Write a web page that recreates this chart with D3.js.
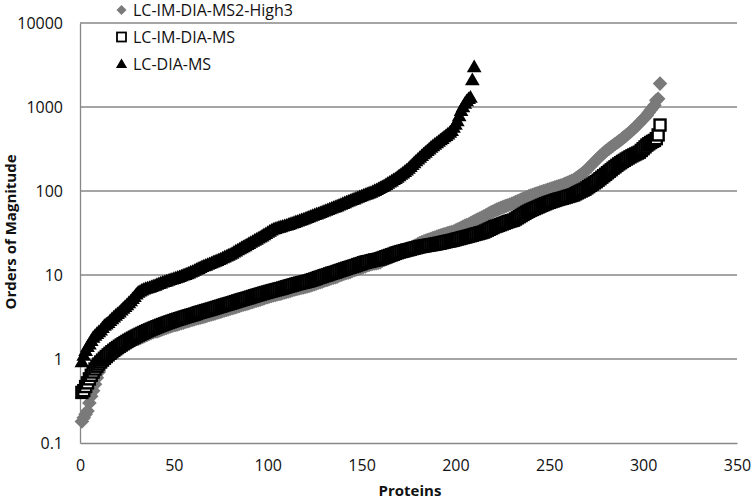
<!DOCTYPE html>
<html><head><meta charset="utf-8">
<script src="https://cdn.jsdelivr.net/npm/d3@7"></script>
<style>body{margin:0;background:#fff}svg{display:block}</style>
</head><body>
<svg id="c" width="751" height="500"></svg>
<script>
const seriesNames = ["LC-IM-DIA-MS2-High3", "LC-IM-DIA-MS", "LC-DIA-MS"];
const xTicks = [0, 50, 100, 150, 200, 250, 300, 350];
const yTicks = [0.1, 1, 10, 100, 1000, 10000];
const yTickLabels = ["0.1", "1", "10", "100", "1000", "10000"];
const xTitle = "Proteins";
const yTitle = "Orders of Magnitude";

// LC-IM-DIA-MS2-High3 (gray diamonds), ranked proteins 1..309
const highValues = [
0.18,0.2,0.22,0.24,0.3,0.36,0.42,0.5,0.6,0.7,
0.86,0.9,0.95,1.0,1.04,1.09,1.13,1.18,1.23,1.27,
1.31,1.35,1.4,1.44,1.49,1.54,1.58,1.63,1.67,1.72,
1.73,1.77,1.82,1.86,1.91,1.95,2.0,2.04,2.09,2.13,
2.13,2.17,2.22,2.26,2.31,2.35,2.39,2.44,2.48,2.53,
2.54,2.58,2.63,2.67,2.71,2.76,2.8,2.84,2.89,2.93,2.98,3.03,
3.05,3.1,3.15,3.19,3.24,3.29,3.34,3.39,3.44, 3.49,3.55,3.61,3.66,3.72,3.78,3.84,3.9,3.96,
4.02,4.09,4.15,4.22,4.29,4.36,4.43,4.49,4.56, 4.63,4.7,4.78,4.86,4.94,5.01,5.09,5.17,5.25,
5.39,5.46,5.54,5.62,5.7,5.78,5.86,5.93,6.0,
6.1,6.19,6.29,6.39,6.48,6.58,6.67,6.79,
6.87,6.96,7.05,7.13,7.22,7.31,7.4,
7.53,7.66,7.79,7.92,8.09,8.22,8.35,8.53,
8.66,8.79,8.96,9.14,9.27,9.4,9.57,
9.86,10,10.2,10.4,10.6,10.7,10.9,
11.2,11.4,11.6,11.8,12,12.2,12.5,12.6,
13.1,13.2,13.4,13.6,13.7,13.8,14,14.2,
14.8,15.1,15.4,15.7,16.1,16.4,16.8,17.3,17.7,18.1,
18.6,19,19.5,20,20.4,20.9,21.5,22.1,22.6,23.3,24,
24.5,25,25.5,26,26.5,27,27.5,28,28.5,
29,29.5,30,30.5,31,31.5,32,32.5,33, 33.8,34.7,35.6,36.5,37.5,38.4,39.2,40,
41.2,42.4,43.6,44.8,45.9,47, 48.3,49.7,51.1,52.6,54.1,55.6,57.1,58.6,60,
61.2,62.5,63.8,65.1,66.5,67.8,69.2,70.6,72, 73.7,75.4,77.2,79,80.8,82.6,84.4,86.2,88,
89.7,91.3,93,94.7,96.4,98.1,99.8,101.4,103, 104.8,106.7,108.6,110.5,112.4,114.3,116.2,118,
120.7,123.5,126.3,129.2,132.1,135, 140.2,145.6,151.2,157.1,163.2,170, 179,189,199,210,221,233,
245,258,271,284,297,310, 322,335,348,362,376,390,405, 423,441,460,480,500, 525,552,580,609,640,
680,720,750,800,860,920,980,1050,1200,1250,1900];

// LC-IM-DIA-MS (open squares), ranked proteins 1..309
const imValues = [
0.40,0.42,0.47,0.52,0.58,0.64,0.7,0.76,0.82,0.87,
0.92,0.97,1.02,1.07,1.12,1.17,1.22,1.27,1.32,1.37,
1.42,1.47,1.52,1.57,1.62,1.67,1.72,1.77,1.82,1.87,
1.92,1.97,2.02,2.07,2.12,2.17,2.22,2.27,2.32,2.37,
2.42,2.47,2.52,2.57,2.62,2.67,2.72,2.77,2.82,2.87,
2.92,2.97,3.02,3.07,3.12,3.17,3.22,3.27,3.32,3.37,3.42,3.48,
3.55,3.6,3.66,3.71,3.77,3.82,3.88,3.94,4.0,
4.06,4.13,4.2,4.26,4.33,4.4,4.47,4.53,4.6, 4.67,4.75,4.83,4.91,4.99,5.07,5.15,5.22,5.3,
5.38,5.47,5.56,5.65,5.74,5.83,5.92,6.01,6.1,
6.19,6.28,6.37,6.46,6.55,6.64,6.73,6.82,6.9,
7.01,7.12,7.23,7.34,7.45,7.56,7.67,7.8,
7.9,8.0,8.1,8.2,8.3,8.4,8.5,
8.65,8.8,8.95,9.1,9.3,9.45,9.6,9.8,
9.95,10.1,10.3,10.5,10.65,10.8,11,
11.2,11.4,11.6,11.8,12,12.2,12.4,
12.6,12.8,13.0,13.3,13.5,13.7,14,14.2,
14.4,14.5,14.7,14.9,15.1,15.2,15.4,15.6,
15.9,16.2,16.5,16.8,17.1,17.4,17.7,18.1,18.4,18.7,
19,19.2,19.5,19.8,20,20.3,20.6,20.9,21.1,21.4,21.7,
21.9,22.1,22.3,22.5,22.7,22.9,23.1,23.3,23.5, 23.8,24,24.3,24.6,24.9,25.2,25.4,25.7,26,
26.4,26.8,27.1,27.5,27.9,28.2,28.6,29, 29.4,29.8,30.3,30.7,31.1,31.6,32,32.5,
33.3,34.1,35,35.8,36.7,37.7,38.3,39, 39.8,40.6,41.4,42.2,43,43.8,44.4,45,
46.4,47.9,49.4,51,52.6,54.2,55.9,57.4,59, 60.3,61.7,63.1,64.5,66,67.5,69,70.5,72,
73.3,74.6,75.9,77.2,78.6,79.9,81,82, 83.3,84.6,86,87.3,88.7,90, 92.5,95,97.5,100,102.5,105,
108.8,112.7,116.7,120.8,125,129, 134.5,140,146,152,158,165, 172,179,187,194,202,210,
217,225,232,240,247,255, 262,269,276,283,290, 304,319,335,352, 365,378,390,400,420,465,610];

// LC-DIA-MS (filled triangles), ranked proteins 1..210
const diaValues = [
0.92,1.1,1.25,1.4,1.5,1.65,1.8,1.9,2.0,2.1, 2.2,2.35,2.5,2.6, 2.7,2.85,3.0,3.15, 3.3,3.45,3.6,
3.8,4.0,4.2, 4.4,4.65,4.9, 5.2,5.5,5.9, 6.2,6.4,6.6,6.75,6.9, 7.0,7.1,7.25,7.4,7.5,
7.7,7.85,8.0,8.2, 8.3,8.45,8.6,8.75,8.9,9.05,9.2,9.35,9.5, 9.7,9.9,10.1,10.3,10.5,10.8,11,
11.3,11.6,11.9,12.2,12.5,12.8,13, 13.3,13.6,13.9,14.2,14.5,14.8,15.2,15.5, 15.9,16.3,16.7,17.1,17.5,
18,18.6,19.2,19.8,20.4,21, 21.6,22.2,22.9,23.6,24.3,25, 25.8,26.5,27.3,28.1,29, 30,31,32,33,34,35,
35.6,36.2,36.8,37.4,38,38.5,39, 39.7,40.5,41.2,42,42.8,43.6,44.4,45.2,46,
47,48,49,50,51,52,53,54,55, 56.2,57.4,58.6,59.8,61,62.2,63.4,64.7,66,
67.5,69,70.6,72.2,73.8,75.4,77,78.5,80, 81.7,83.4,85.2,87,88.8,90.6,92.4,94.2,96,
98.5,101,103.5,106,109,112,115, 119,123,127,131,136,140,145, 151,157,163,170,177,185,
195,205,216,227,238,250, 262,275,288,301,315,330, 344,358,373,388,404,420, 438,456,475,497,520,
570,620,680,780,900,1000,1100,1180,1250,1300,2100,3000];

const svg = d3.select("#c");
const L = 80, R = 737, T = 23, B = 443;
const x = d3.scaleLinear().domain([0, 350]).range([L, R]);
const y = d3.scaleLog().domain([0.1, 10000]).range([B, T]);
const gridColor = "#878787";
const font = "'Open Sans', sans-serif";

svg.append("g").selectAll("line").data(yTicks.slice(1)).join("line")
  .attr("x1", L).attr("x2", R).attr("y1", d => y(d)).attr("y2", d => y(d))
  .attr("stroke", gridColor).attr("stroke-width", 1.3);

const xAxis = svg.append("g").attr("transform", `translate(0,${B})`)
  .call(d3.axisBottom(x).tickValues(xTicks).tickSize(0).tickPadding(17));
const yAxis = svg.append("g").attr("transform", `translate(${L},0)`)
  .call(d3.axisLeft(y).tickValues(yTicks).tickFormat((d, i) => yTickLabels[i]).tickSize(0).tickPadding(17));
[xAxis, yAxis].forEach(g => {
  g.select(".domain").attr("stroke", gridColor).attr("stroke-width", 1.3);
  g.selectAll("text").attr("font-family", font).attr("font-size", 16).attr("fill", "#111");
});

const diamond = h => `M0,${-h}L${h},0L0,${h}L${-h},0Z`;
const tri = s => `M0,${-7 * s}L${7 * s},${5 * s}L${-7 * s},${5 * s}Z`;

const plot = svg.append("g");
plot.append("g").selectAll("path").data(highValues).join("path")
  .attr("transform", (d, i) => `translate(${x(i + 1)},${y(d)})`)
  .attr("d", diamond(7.3)).attr("fill", "#7a7a7a");
plot.append("g").selectAll("rect").data(imValues).join("rect")
  .attr("x", (d, i) => x(i + 1) - 5.5).attr("y", d => y(d) - 5.5)
  .attr("width", 11).attr("height", 11)
  .attr("fill", "#fff").attr("stroke", "#000").attr("stroke-width", 2.4);
plot.append("g").selectAll("path").data(diaValues).join("path")
  .attr("transform", (d, i) => `translate(${x(i + 1)},${y(d)})`)
  .attr("d", tri(1.05)).attr("fill", "#000");

const lg = svg.append("g");
const rows = [10, 37, 64];
lg.append("path").attr("transform", `translate(121.5,${rows[0]})`).attr("d", diamond(5)).attr("fill", "#7a7a7a");
lg.append("rect").attr("x", 117).attr("y", rows[1] - 4.5).attr("width", 9).attr("height", 9)
  .attr("fill", "#fff").attr("stroke", "#000").attr("stroke-width", 1.8);
lg.append("path").attr("transform", `translate(121.5,${rows[2]})`).attr("d", tri(0.8)).attr("fill", "#000");
lg.selectAll("text").data(seriesNames).join("text")
  .attr("x", 133).attr("y", (d, i) => rows[i] + 6)
  .attr("font-family", font).attr("font-size", 16).attr("fill", "#111").text(d => d);

svg.append("text").attr("x", 410).attr("y", 496).attr("text-anchor", "middle")
  .attr("font-family", font).attr("font-weight", "bold").attr("font-size", 15).attr("fill", "#111").text(xTitle);
svg.append("text").attr("transform", "translate(16,232) rotate(-90)").attr("text-anchor", "middle")
  .attr("font-family", font).attr("font-weight", "bold").attr("font-size", 15).attr("fill", "#111").text(yTitle);
</script>
</body></html>
